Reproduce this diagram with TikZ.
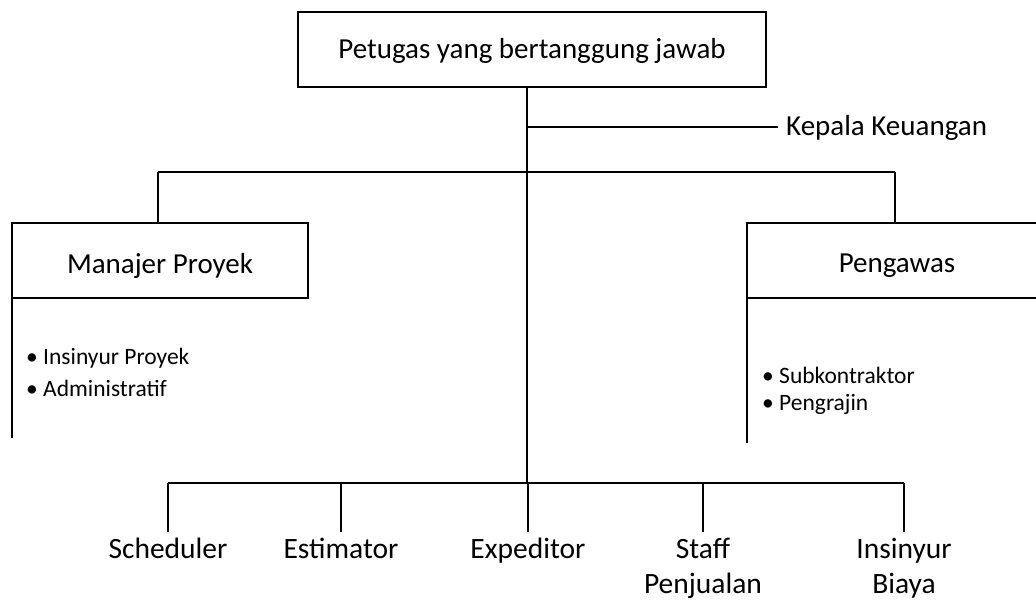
\documentclass[tikz,border=0pt]{standalone}
\usepackage{fontspec}
\setmainfont{Carlito}
\begin{document}
\begin{tikzpicture}[x=1pt,y=-1pt,
  thick box/.style={draw=black,line width=2.8pt,inner sep=0pt},
  thin link/.style={draw=black,line width=1.1pt},
  main link/.style={draw=black,line width=2.2pt},
  bar link/.style={draw=black,line width=2.8pt},
  big label/.style={font=\fontsize{29}{34}\selectfont,inner sep=0pt},
  item label/.style={font=\fontsize{23.5}{30}\selectfont,inner sep=0pt,anchor=west},
  low label/.style={font=\fontsize{29.5}{35}\selectfont,inner sep=0pt,align=center,anchor=north}]
\useasboundingbox (0,0) rectangle (1036,600);

% head box
\node[thick box,minimum width=468pt,minimum height=75pt] (head) at (532,49.5) {};
\node[big label] (headtxt) at (532,51) {Petugas yang bertanggung jawab};

% spine from the head down to the staff bar
\coordinate (spinetop) at (527,87);
\coordinate (kjoin) at (527,127);
\coordinate (branch) at (527,172);
\coordinate (spinebot) at (527,483);
\draw[main link] (spinetop) -- (spinebot);

% finance head
\coordinate (kend) at (778,127);
\draw[thin link] (kjoin) -- (kend);
\node[big label,anchor=west] (keu) at (786,128) {Kepala Keuangan};

% branch line to the two managers
\coordinate (bl) at (158,172);
\coordinate (br) at (895,172);
\draw[thin link] (bl) -- (br);

% project manager block
\coordinate (mpTL) at (12,223);
\coordinate (mpTR) at (308,223);
\coordinate (mpBR) at (308,298);
\coordinate (mpBL) at (12,298);
\coordinate (mpEnd) at (12,438);
\draw[thick box] (mpBL) -- (mpTL) -- (mpTR) -- (mpBR) -- (mpBL);
\draw[thick box] (mpTL) -- (mpEnd);
\coordinate (mpTop) at (158,223);
\draw[thin link] (bl) -- (mpTop);
\node[big label] (mp) at (160,266) {Manajer Proyek};
\node[item label] (mp1) at (26,358) {\textbullet\ Insinyur Proyek};
\node[item label] (mp2) at (26,388) {\textbullet\ Administratif};

% supervisor block
\coordinate (pgTL) at (747,223);
\coordinate (pgTR) at (1040,223);
\coordinate (pgBR) at (1040,298);
\coordinate (pgBL) at (747,298);
\coordinate (pgEnd) at (747,443);
\draw[thick box] (pgTR) -- (pgTL) -- (pgBL) -- (pgBR);
\draw[thick box] (pgBL) -- (pgEnd);
\coordinate (pgTop) at (895,223);
\draw[thin link] (br) -- (pgTop);
\node[big label] (pg) at (897,266) {Pengawas};
\node[item label] (pg1) at (762,375) {\textbullet\ Subkontraktor};
\node[item label] (pg2) at (762,404) {\textbullet\ Pengrajin};

% staff bar
\coordinate (barL) at (168,483);
\coordinate (barR) at (904,483);
\draw[bar link] (barL) -- (barR);

\foreach \nm/\xx in {sch/168,est/341,exp/528,stf/703,ins/904}{
  \coordinate (\nm top) at (\xx,483);
  \coordinate (\nm bot) at (\xx,532);
  \draw[main link] (\nm top) -- (\nm bot);
}
\node[low label] (sch) at (168,538) {Scheduler};
\node[low label] (est) at (341,538) {Estimator};
\node[low label] (exp) at (528,538) {Expeditor};
\node[low label] (stf) at (703,538) {Staff\\Penjualan};
\node[low label] (ins) at (904,538) {Insinyur\\Biaya};
\end{tikzpicture}
\end{document}
